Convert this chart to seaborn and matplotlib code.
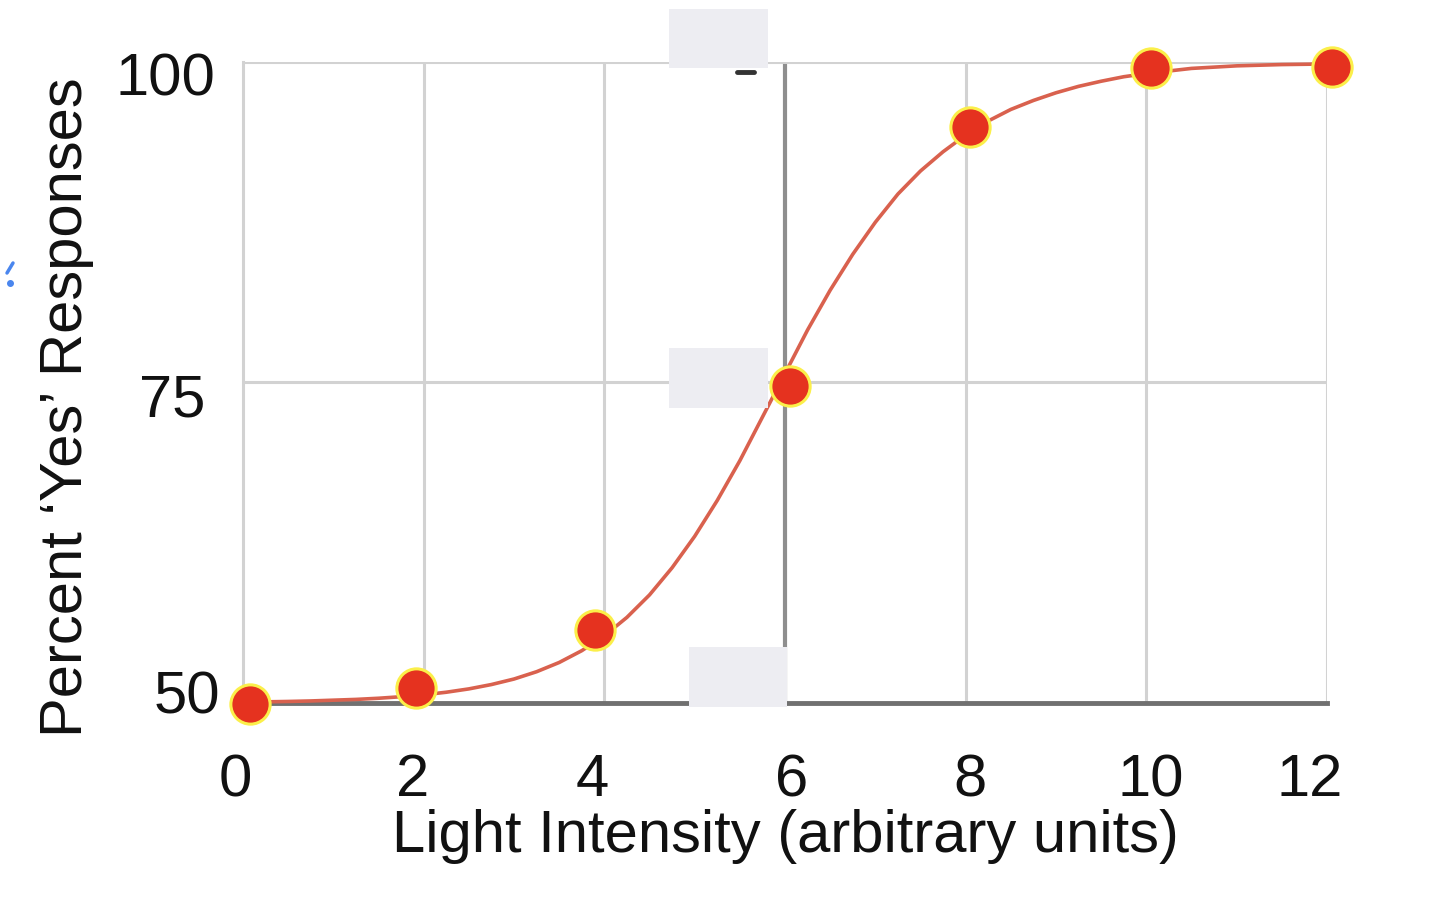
import matplotlib
matplotlib.use("Agg")
import matplotlib.pyplot as plt
import matplotlib.transforms as mtransforms
import seaborn as sns
import pandas as pd
from matplotlib.patches import Rectangle
from matplotlib.lines import Line2D

# ---- data ----
intensity = [0.08, 1.92, 3.9, 6.05, 8.05, 10.05, 12.05]
percent_yes = [49.9, 51.2, 55.7, 74.7, 94.9, 99.5, 99.6]

curve_x = [0.1, 0.25, 0.5, 0.75, 1.0, 1.25, 1.5, 1.75, 2.0, 2.25, 2.5, 2.75,
           3.0, 3.25, 3.5, 3.75, 4.0, 4.25, 4.5, 4.75, 5.0, 5.25, 5.5, 5.75,
           6.0, 6.25, 6.5, 6.75, 7.0, 7.25, 7.5, 7.75, 8.0, 8.25, 8.5, 8.75,
           9.0, 9.25, 9.5, 9.75, 10.0, 10.5, 11.0, 11.5, 12.05]
curve_y = [50.08, 50.09, 50.12, 50.16, 50.22, 50.28, 50.37, 50.49, 50.64, 50.84, 51.1, 51.44,
           51.87, 52.44, 53.16, 54.08, 55.24, 56.68, 58.43, 60.55, 63.0, 65.8, 68.9, 72.3,
           75.7, 79.1, 82.2, 85.0, 87.5, 89.7, 91.5, 93.0, 94.3, 95.4, 96.3, 97.0,
           97.6, 98.1, 98.5, 98.85, 99.1, 99.5, 99.7, 99.8, 99.85]

x_ticks = [0, 2, 4, 6, 8, 10, 12]
y_ticks = [50, 75, 100]
x_label = "Light Intensity (arbitrary units)"
y_label = "Percent \u2018Yes\u2019 Responses"

sns.set_theme(style="white")
plt.rcParams['font.family'] = ['Liberation Sans', 'DejaVu Sans']

W, H = 1440, 921
fig = plt.figure(figsize=(W / 100, H / 100), dpi=100)
ax = fig.add_axes([243 / W, 1 - 703 / H, (1327 - 243) / W, (703 - 62) / H])

df_pts = pd.DataFrame({"x": intensity, "y": percent_yes})
df_curve = pd.DataFrame({"x": curve_x, "y": curve_y})

ax.set_xlim(0, 12)
ax.set_ylim(50, 100)

# grid
for xv in x_ticks[1:]:
    if xv == 6:
        ax.axvline(xv, color="#8e8e8e", lw=3.0, zorder=1)
    else:
        ax.axvline(xv, color="#d2d2d2", lw=2.2, zorder=1)
for yv in y_ticks[1:]:
    ax.axhline(yv, color="#d2d2d2", lw=2.2, zorder=1)

sns.lineplot(data=df_curve, x="x", y="y", ax=ax, color="#d9614e", lw=2.6,
             zorder=3, clip_on=False)
sns.scatterplot(data=df_pts, x="x", y="y", ax=ax, s=800, color="#e5321f",
                edgecolor="#fbef4a", linewidth=2.2, zorder=4, clip_on=False)

for s in ["top", "right"]:
    ax.spines[s].set_visible(False)
ax.spines["left"].set_color("#d2d2d2")
ax.spines["left"].set_linewidth(2.2)
ax.spines["bottom"].set_color("#707070")
ax.spines["bottom"].set_linewidth(3.5)
ax.spines["bottom"].set_zorder(2)

ax.set_xticks(x_ticks)
ax.set_yticks(y_ticks)
ax.set_xticklabels([str(v) for v in x_ticks])
ax.set_yticklabels([str(v) for v in y_ticks])
ax.tick_params(axis="x", length=0, pad=36, labelsize=43, labelcolor="#111111")
ax.tick_params(axis="y", length=0, pad=20, labelsize=43, labelcolor="#111111")

# small per-label nudges (pixels) to follow the reference placement
x_shift = [-8, -11, -12, 7, 4, 4, -17]
for lab, dx in zip(ax.get_xticklabels(), x_shift):
    lab.set_transform(lab.get_transform() +
                      mtransforms.ScaledTranslation(dx / 100, 0, fig.dpi_scale_trans))
y_shift = [11, -12, -12]
y_xshift = [5, -10, 0]
for lab, dy, dx in zip(ax.get_yticklabels(), y_shift, y_xshift):
    lab.set_transform(lab.get_transform() +
                      mtransforms.ScaledTranslation(dx / 100, dy / 100, fig.dpi_scale_trans))

ax.set_xlabel(x_label, fontsize=43, color="#111111", labelpad=1)
ax.set_ylabel(y_label, fontsize=43, color="#111111")
ax.yaxis.set_label_coords(-0.137, 0.462)

# light grey cover boxes
for (x0, y0, x1, y1) in [(669, 9, 768, 68), (669, 348, 768, 408), (689, 647, 787, 707)]:
    fig.add_artist(Rectangle((x0 / W, 1 - y1 / H), (x1 - x0) / W, (y1 - y0) / H,
                             transform=fig.transFigure, facecolor="#ededf2",
                             edgecolor="none", zorder=10))
# small dark dash near top
fig.add_artist(Line2D([737 / W, 754 / W], [1 - 72 / H, 1 - 72 / H],
                      transform=fig.transFigure, color="#333333", lw=3.5,
                      solid_capstyle="round", zorder=11))
# small blue mark at left edge
fig.add_artist(Line2D([7 / W, 13 / W], [1 - 273 / H, 1 - 263 / H],
                      transform=fig.transFigure, color="#4a86ee", lw=2.5, zorder=11))
fig.add_artist(Line2D([10 / W], [1 - 283 / H], marker="o", markersize=4,
                      transform=fig.transFigure, color="#4a86ee", zorder=11))

fig.savefig("out.png", dpi=100, facecolor="white")
